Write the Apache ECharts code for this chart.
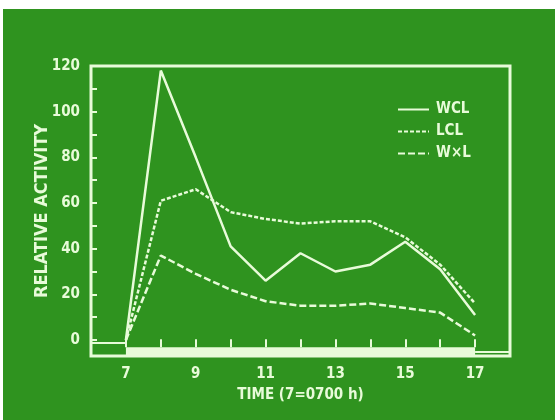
<!DOCTYPE html>
<html>
<head>
<meta charset="utf-8">
<script src="https://cdn.jsdelivr.net/npm/echarts@6/dist/echarts.min.js"></script>
<style>
  html, body { margin: 0; padding: 0; background: #fff; }
  #chart { width: 555px; height: 420px; }
</style>
</head>
<body>
<div id="chart"></div>
<script>
const hours = [7, 8, 9, 10, 11, 12, 13, 14, 15, 16, 17]
const wcl = [0, 118, 80, 41, 26, 38, 30, 33, 43, 31, 11]
const lcl = [0, 61, 66, 56, 53, 51, 52, 52, 45, 33, 16]
const wxl = [0, 37, 29, 22, 17, 15, 15, 16, 14, 12, 2]
const xLabels = [7, 9, 11, 13, 15, 17]
const xTicks = [7, 8, 9, 10, 11, 12, 13, 14, 15, 16, 17]
const yLabels = [0, 20, 40, 60, 80, 100, 120]
const yTicks = [0, 10, 20, 30, 40, 50, 60, 70, 80, 90, 100, 110]
const band = [7, 17]

const INK = '#e8fbd9'
const GREEN = '#2f931f'
const FONT = '"DejaVu Sans Condensed", "Liberation Sans Narrow", Arial, sans-serif'

const chart = echarts.init(document.getElementById('chart'), null, { renderer: 'canvas' })

const mkSeries = (name, values, type) => ({
  name,
  type: 'line',
  symbol: 'none',
  data: hours.map((h, i) => [h, values[i]]),
  lineStyle: { color: INK, width: 2.5, type },
  itemStyle: { color: INK },
  z: 3,
})

const textStyle = { color: INK, fontFamily: FONT, fontWeight: 'bold' }

const option = {
  backgroundColor: '#fff',
  animation: false,
  graphic: [{
    type: 'rect',
    left: 3, top: 9,
    shape: { width: 552, height: 411 },
    style: { fill: GREEN },
    z: -10,
  }],
  grid: {
    left: 91, right: 45, top: 66, bottom: 64,
    outerBoundsMode: 'none',
    show: true,
    borderColor: INK,
    borderWidth: 3,
  },
  legend: {
    orient: 'vertical',
    left: 392, top: 97,
    itemWidth: 31, itemHeight: 14, itemGap: 7,
    itemStyle: { opacity: 0 },
    textStyle: Object.assign({ fontSize: 15, padding: [0, 0, 0, 2] }, textStyle),
    data: ['WCL', 'LCL', 'W×L'],
  },
  xAxis: {
    type: 'value',
    min: 6, max: 18,
    name: 'TIME (7=0700 h)',
    nameLocation: 'middle',
    nameGap: 32,
    nameMoveOverlap: false,
    nameTextStyle: Object.assign({ fontSize: 15 }, textStyle),
    axisLine: { show: false, onZero: false },
    splitLine: { show: false },
    axisTick: { show: false },
    axisLabel: Object.assign({ fontSize: 15, margin: 11, customValues: xLabels }, textStyle),
  },
  yAxis: {
    type: 'value',
    min: -7, max: 120,
    name: 'RELATIVE ACTIVITY',
    nameLocation: 'middle',
    nameGap: 40,
    nameMoveOverlap: false,
    nameTextStyle: Object.assign({ fontSize: 18 }, textStyle),
    axisLine: { show: false, onZero: false },
    splitLine: { show: false },
    axisTick: { show: true, inside: true, length: 6, customValues: yTicks, lineStyle: { color: INK, width: 2 } },
    axisLabel: Object.assign({ fontSize: 15, margin: 11, customValues: yLabels }, textStyle),
  },
  series: [
    Object.assign(mkSeries('WCL', wcl, 'solid'), {
      markArea: {
        silent: true,
        itemStyle: { color: INK },
        data: [[{ coord: [band[0], -7] }, { coord: [band[1], -3.2] }]],
      },
      markLine: {
        silent: true,
        symbol: 'none',
        label: { show: false },
        lineStyle: { color: INK, width: 2, type: 'solid' },
        data: [
          [{ coord: [6, -1.2] }, { coord: [band[0], -1.2] }],
          [{ coord: [band[1], -5.2] }, { coord: [18, -5.2] }],
          // hour ticks standing on the white band
          ...xTicks.map(t => [{ coord: [t, -3.2] }, { coord: [t, 0.3] }]),
        ],
      },
    }),
    mkSeries('LCL', lcl, [4, 2]),
    mkSeries('W×L', wxl, [7, 3]),
  ],
}

chart.setOption(option)
</script>
</body>
</html>
